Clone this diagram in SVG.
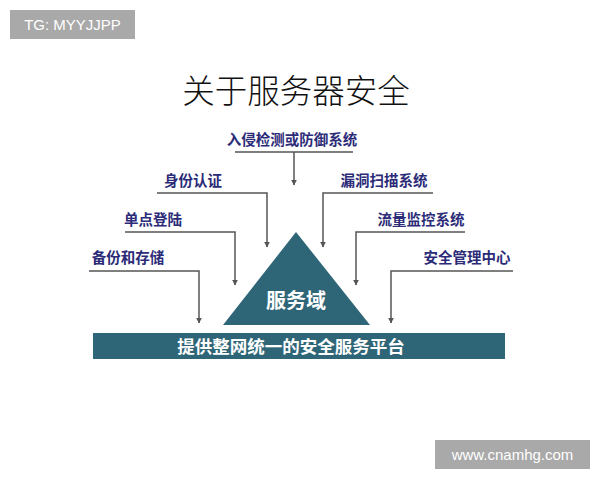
<svg xmlns="http://www.w3.org/2000/svg" width="600" height="480" viewBox="0 0 600 480">
<defs>
<style>
.lbl{font-family:"Noto Sans CJK SC",sans-serif;font-size:14.5px;font-weight:bold;fill:#2b2b78}
.cn{stroke:#555;stroke-width:1.5;fill:none}
.wm{fill:#a9a9a9}
.wmt{font-family:"Liberation Sans",Arial,sans-serif;font-size:15px;fill:#fff}
</style>
<marker id="ah" viewBox="0 0 10 10" refX="9" refY="5" markerWidth="6" markerHeight="8" orient="auto" markerUnits="userSpaceOnUse">
<path d="M0,0 L10,5 L0,10 z" fill="#555"/>
</marker>
</defs>
<rect width="600" height="480" fill="#fff"/>
<g id="wm1"><rect class="wm" x="10" y="10" width="125" height="29"/><text class="wmt" x="72.5" y="30" text-anchor="middle">TG: MYYJJPP</text></g>
<g id="title"><text x="296" y="103" text-anchor="middle" font-family="Noto Sans CJK SC,sans-serif" font-size="32.5" font-weight="300" fill="#111">关于服务器安全</text></g>
<g id="connectors">
<path class="cn" d="M235,152 H353 M294,152 V185" marker-end="url(#ah)"/>
<path class="cn" d="M157,193 H267 V247" marker-end="url(#ah)"/>
<path class="cn" d="M125,232 H235 V285" marker-end="url(#ah)"/>
<path class="cn" d="M89,271 H199 V323" marker-end="url(#ah)"/>
<path class="cn" d="M433,193 H323 V247" marker-end="url(#ah)"/>
<path class="cn" d="M465,232 H356 V285" marker-end="url(#ah)"/>
<path class="cn" d="M513,271 H391 V323" marker-end="url(#ah)"/>
</g>
<g id="n-ids"><text class="lbl" x="292" y="145" text-anchor="middle">入侵检测或防御系统</text></g>
<g id="n-auth"><text class="lbl" x="193" y="186" text-anchor="middle">身份认证</text></g>
<g id="n-sso"><text class="lbl" x="153" y="225" text-anchor="middle">单点登陆</text></g>
<g id="n-backup"><text class="lbl" x="128" y="263" text-anchor="middle">备份和存储</text></g>
<g id="n-scan"><text class="lbl" x="384" y="186" text-anchor="middle">漏洞扫描系统</text></g>
<g id="n-flow"><text class="lbl" x="421" y="225" text-anchor="middle">流量监控系统</text></g>
<g id="n-mgmt"><text class="lbl" x="467" y="263" text-anchor="middle">安全管理中心</text></g>
<g id="n-domain"><path d="M296,232 L370,325 L223,325 Z" fill="#2f6677"/><text x="296" y="308" text-anchor="middle" font-family="Noto Sans CJK SC,sans-serif" font-size="20" font-weight="bold" fill="#fff">服务域</text></g>
<g id="n-platform"><rect x="93" y="333" width="412" height="26" fill="#2f6677"/><text x="291" y="352.5" text-anchor="middle" font-family="Noto Sans CJK SC,sans-serif" font-size="17.5" font-weight="bold" fill="#fff">提供整网统一的安全服务平台</text></g>
<g id="wm2"><rect class="wm" x="435" y="440" width="155" height="29"/><text class="wmt" x="512.5" y="460" text-anchor="middle">www.cnamhg.com</text></g>
</svg>
